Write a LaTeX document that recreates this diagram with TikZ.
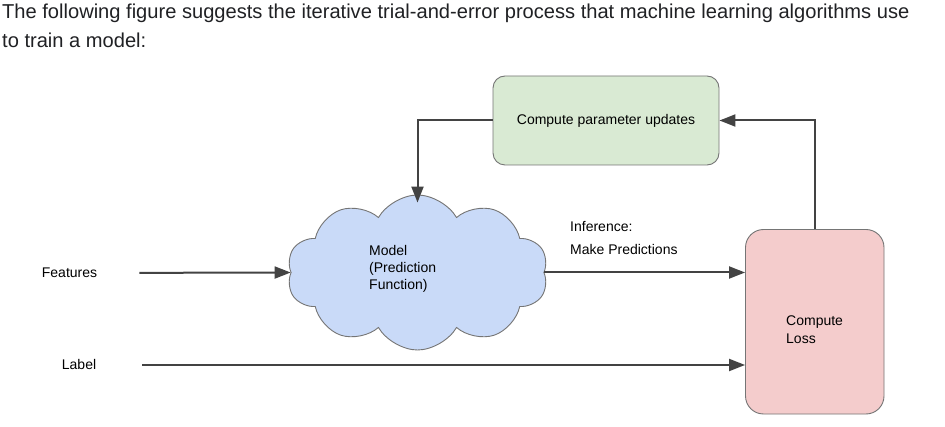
\documentclass[tikz,border=0pt]{standalone}
\usepackage{fontspec}
\setmainfont{Liberation Sans}
\usepackage{tikz}
\usepackage{xcolor}
\usetikzlibrary{shapes.symbols, arrows.meta, positioning}
\definecolor{InkBlack}{HTML}{202124}
\definecolor{EdgeGray}{HTML}{757575}
\definecolor{ArrowGray}{HTML}{434343}
\definecolor{UpdateGreen}{HTML}{D9EAD3}
\definecolor{LossRed}{HTML}{F4CCCC}
\definecolor{ModelBlue}{HTML}{C9DAF8}
\newcommand{\diagfont}{\fontsize{14}{17.4}\selectfont}
\newcommand{\headfont}{\fontsize{20.1}{29}\selectfont}

\begin{document}
\begin{tikzpicture}[x=1pt, y=-1pt,
    flowbox/.style={draw=EdgeGray, line width=0.9pt},
    flowarrow/.style={draw=ArrowGray, line width=2pt,
                      -{Triangle[length=16pt, width=12pt]}},
    txt/.style={font=\diagfont, text=black, inner sep=0pt, align=left}]
    \fill[white] (0,0) rectangle (945,427);
    \useasboundingbox (0,0) rectangle (945,427);

    % Heading text
    \node[anchor=north west, inner sep=0pt, align=left, font=\headfont, text=InkBlack]
        (heading) at (2,3.5) {The following figure suggests the iterative trial-and-error process that machine learning algorithms use\\
        to train a model:};

    % Boxes and cloud
    \node[flowbox, fill=UpdateGreen, rounded corners=12pt, minimum width=226pt,
          minimum height=89pt, font=\diagfont] (update) at (606,120.5) {Compute parameter updates};
    \node[flowbox, fill=LossRed, rounded corners=18pt, minimum width=138.5pt,
          minimum height=184.5pt] (loss) at (814.75,321.75) {};
    \node[cloud, cloud puffs=10, cloud puff arc=120, cloud ignores aspect, flowbox,
          fill=ModelBlue, minimum width=261pt, minimum height=155pt, inner sep=0pt]
        (model) at (417.5,272.5) {};

    % Texts
    \node[txt, anchor=north west] (modeltxt) at (369,244.8) {Model\\(Prediction\\Function)};
    \node[txt, anchor=north west] (losstxt) at (786,315.8) {Compute\\Loss};
    \node[txt, anchor=base west] (feat) at (41.7,277.7) {Features};
    \node[txt, anchor=base west] (lbl) at (61.7,370) {Label};
    \node[txt, anchor=base west] (infer) at (570,231.7) {Inference:};
    \node[txt, anchor=base west] (predict) at (570,255) {Make Predictions};

    % Arrows
    \draw[flowarrow, shorten <=42pt] (feat.east) -- (model.west);
    \draw[flowarrow, shorten <=46pt] (lbl.east) -- (lbl.east -| loss.west);
    \draw[flowarrow] (model.east) -- (model.east -| loss.west);
    \draw[flowarrow] (loss.north) |- (update.east);
    \draw[flowarrow, shorten >=-8pt] (update.west) -| (model.north);
\end{tikzpicture}
\end{document}
